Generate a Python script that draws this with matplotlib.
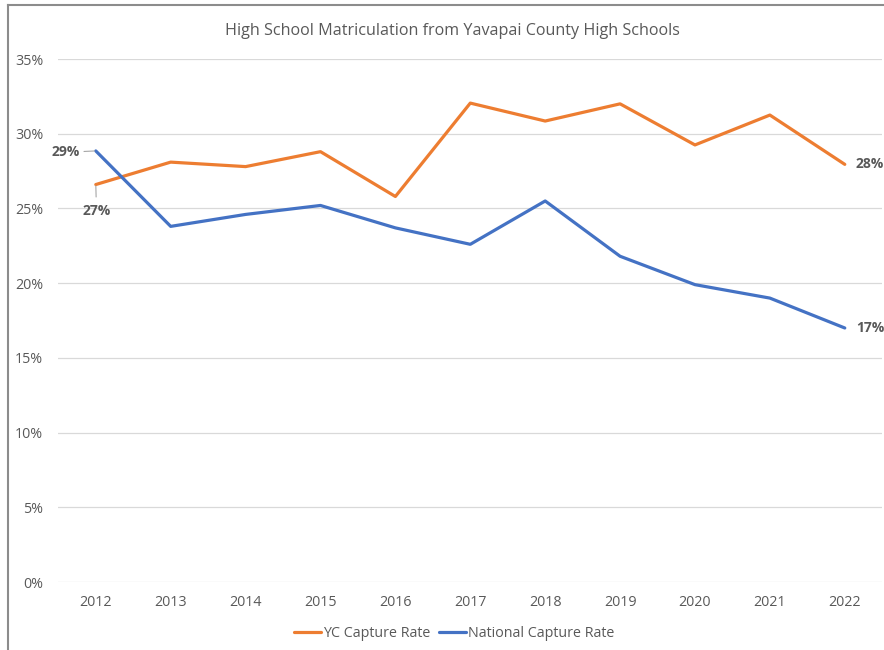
import matplotlib.pyplot as plt
from matplotlib.lines import Line2D
from matplotlib.ticker import FuncFormatter

# Dati
anni = ["2012", "2013", "2014", "2015", "2016", "2017", "2018", "2019", "2020", "2021", "2022"]
yc_capture = [26.6, 28.1, 27.8, 28.8, 25.8, 32.05, 30.85, 32.0, 29.25, 31.25, 27.95]
national_capture = [28.85, 23.8, 24.6, 25.2, 23.7, 22.6, 25.5, 21.8, 19.9, 19.0, 17.0]

ARANCIO = "#ED7D31"
BLU = "#4472C4"
GRIGIO = "#595959"

plt.rcParams['font.family'] = ['Open Sans', 'DejaVu Sans']

fig = plt.figure(figsize=(8.84, 6.5), dpi=100)
ax = fig.add_axes([0.066, 0.1046, 0.932, 0.8046])

x = list(range(len(anni)))
ax.plot(x, yc_capture, color=ARANCIO, lw=2.3, label="YC Capture Rate", solid_capstyle='round')
ax.plot(x, national_capture, color=BLU, lw=2.3, label="National Capture Rate", solid_capstyle='round')

ax.set_xlim(-0.5, len(anni) - 0.5)
ax.set_ylim(0, 35)
ax.set_yticks(range(0, 36, 5))
ax.yaxis.set_major_formatter(FuncFormatter(lambda v, p: f"{v:.0f}%"))
ax.set_xticks(x)
ax.set_xticklabels(anni)
ax.grid(axis='y', color="#D9D9D9", lw=0.9)
ax.set_axisbelow(True)
for s in ax.spines.values():
    s.set_visible(False)
ax.tick_params(length=0, labelsize=10.3, colors=GRIGIO, pad=9)
ax.tick_params(axis='y', pad=11)

fig.text(452 / 884, 1 - 31 / 650, "High School Matriculation from Yavapai County High Schools",
         fontsize=11.6, color=GRIGIO, ha='center', va='center')

# Etichette dei valori (primo e ultimo punto)
ax.annotate(f"{national_capture[0]:.0f}%", xy=(x[0], national_capture[0]),
            xytext=(-11.5, -1), textcoords='offset points', ha='right', va='center',
            fontsize=10, fontweight='bold', color=GRIGIO,
            arrowprops=dict(arrowstyle='-', color="#A6A6A6", lw=0.8, shrinkA=1, shrinkB=1))
ax.annotate(f"{yc_capture[0]:.0f}%", xy=(x[0], yc_capture[0]),
            xytext=(0.5, -19), textcoords='offset points', ha='center', va='center',
            fontsize=10, fontweight='bold', color=GRIGIO,
            arrowprops=dict(arrowstyle='-', color="#A6A6A6", lw=0.8, shrinkA=3, shrinkB=1))
ax.annotate(f"{yc_capture[-1]:.0f}%", xy=(x[-1], yc_capture[-1]),
            xytext=(8, 0), textcoords='offset points', ha='left', va='center',
            fontsize=10, fontweight='bold', color=GRIGIO)
ax.annotate(f"{national_capture[-1]:.0f}%", xy=(x[-1], national_capture[-1]),
            xytext=(8, 0), textcoords='offset points', ha='left', va='center',
            fontsize=10, fontweight='bold', color=GRIGIO)

leg = fig.legend(loc='center', bbox_to_anchor=(0.514, 0.026), ncol=2, frameon=False,
                 fontsize=10.3, handlelength=1.9, handletextpad=0.15, columnspacing=0.6)
for t in leg.get_texts():
    t.set_color(GRIGIO)

# Bordo della figura (solo sinistra e sopra, come nell'immagine ritagliata)
fig.add_artist(Line2D([8 / 884, 8 / 884], [0, 1 - 5 / 650], color="#8C8C8C", lw=1.5,
                      transform=fig.transFigure))
fig.add_artist(Line2D([8 / 884, 1], [1 - 5 / 650, 1 - 5 / 650], color="#8C8C8C", lw=1.5,
                      transform=fig.transFigure))

fig.savefig("out.png", dpi=100)
